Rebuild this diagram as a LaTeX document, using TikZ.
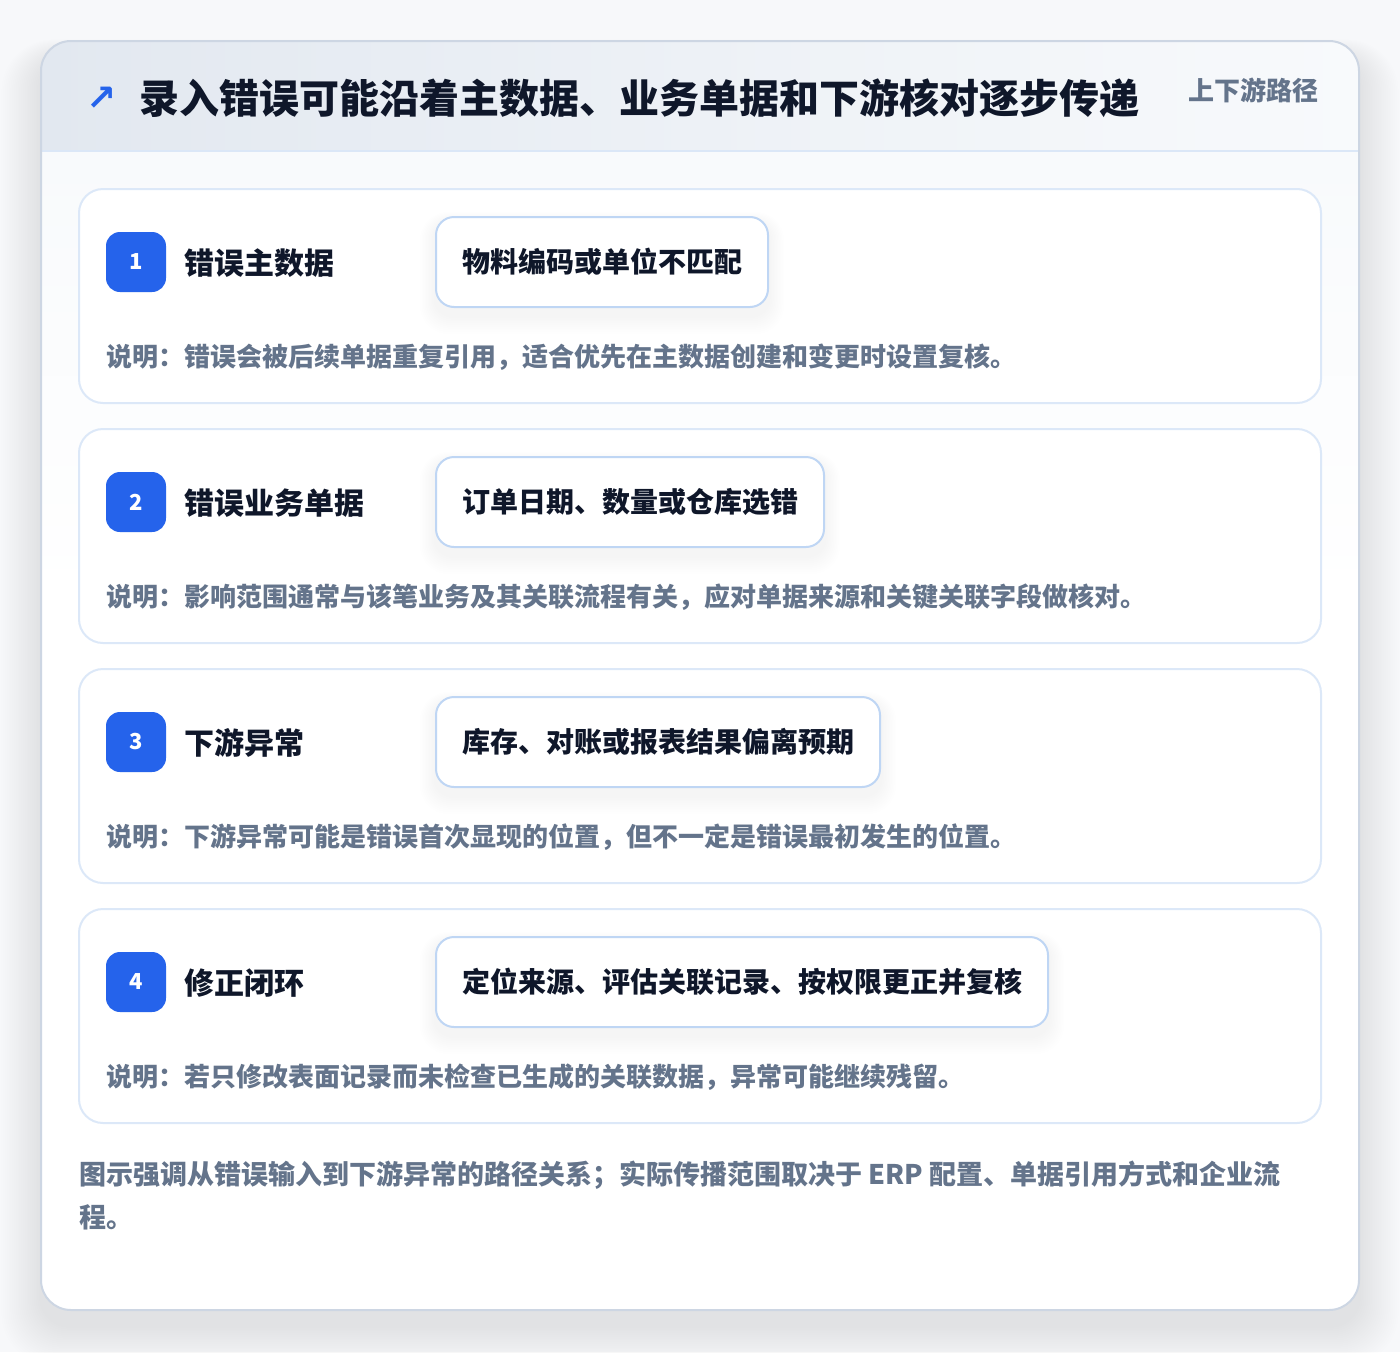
\documentclass[tikz,border=0pt]{standalone}
\usepackage{fontspec}
\setmainfont{Noto Sans CJK SC}
\newfontfamily\symfont{DejaVu Sans}
\definecolor{pagebg}{HTML}{F7F8FA}
\definecolor{cardborder}{HTML}{CDD6E3}
\definecolor{headL}{HTML}{E2E8F0}
\definecolor{headR}{HTML}{F8FAFC}
\definecolor{headline}{HTML}{DBE7F7}
\definecolor{stepborder}{HTML}{DCE8F8}
\definecolor{tagborder}{HTML}{BFD6F4}
\definecolor{badge}{HTML}{2563EB}
\definecolor{ink}{HTML}{0F172A}
\definecolor{muted}{HTML}{64748B}
\tikzset{
  stepcard/.style={draw=stepborder, line width=2pt, fill=white, rounded corners=24pt},
  badgebox/.style={fill=badge, rounded corners=14pt, minimum width=60pt, minimum height=60pt, inner sep=0pt, text=white, font=\fontsize{22}{26}\selectfont\bfseries},
  steptitle/.style={anchor=west, inner sep=0pt, text=ink, font=\fontsize{30}{36}\selectfont\bfseries},
  tagbox/.style={anchor=west, draw=tagborder, line width=2pt, fill=white, rounded corners=18pt, inner xsep=26pt, inner ysep=0pt, minimum height=90pt, text=ink, font=\fontsize{28}{34}\selectfont\bfseries},
  notetext/.style={anchor=west, inner sep=0pt, text=muted, font=\fontsize{26}{32}\selectfont\bfseries},
  foottext/.style={anchor=west, inner sep=0pt, text=muted, font=\fontsize{27}{32}\selectfont\bfseries},
}
\begin{document}
\begin{tikzpicture}[x=1pt,y=-1pt]
\useasboundingbox (0,0) rectangle (1400,1352);
\fill[pagebg] (0,0) rectangle (1400,1352);
% soft card shadow
\foreach \k in {1,...,22}{
  \fill[black, opacity=0.0045, rounded corners=30pt+\k pt] (41-\k*1.8,41-\k*0.8+16) rectangle (1359+\k*1.8,1310+\k*1.8+16);
}
\fill[white, rounded corners=30pt] (41,41) rectangle (1359,1310);
\begin{scope}
  \clip[rounded corners=30pt] (41,41) rectangle (1359,1310);
  \fill[top color=headR, bottom color=white] (41,151) rectangle (1359,600);
  \fill[left color=headL, right color=headR] (41,41) rectangle (1359,151);
  \draw[headline, line width=2pt] (41,151) -- (1359,151);
\end{scope}
\draw[cardborder, line width=2pt, rounded corners=30pt] (41,41) rectangle (1359,1310);
% header
\node[anchor=center, inner sep=0pt, text=badge, font=\symfont\bfseries\fontsize{36}{40}\selectfont] (icon) at (102,99) {↗};
\node[anchor=west, inner sep=0pt, text=ink, font=\fontsize{40}{48}\selectfont\bfseries] (title) at (139,98) {录入错误可能沿着主数据、业务单据和下游核对逐步传递};
\node[anchor=west, inner sep=0pt, text=muted, font=\fontsize{26}{32}\selectfont\bfseries] (tagline) at (1188,90) {上下游路径};
% steps
\foreach \i/\t/\g/\n in {
  1/错误主数据/物料编码或单位不匹配/说明：错误会被后续单据重复引用，适合优先在主数据创建和变更时设置复核。,
  2/错误业务单据/订单日期、数量或仓库选错/说明：影响范围通常与该笔业务及其关联流程有关，应对单据来源和关键关联字段做核对。,
  3/下游异常/库存、对账或报表结果偏离预期/说明：下游异常可能是错误首次显现的位置，但不一定是错误最初发生的位置。,
  4/修正闭环/定位来源、评估关联记录、按权限更正并复核/说明：若只修改表面记录而未检查已生成的关联数据，异常可能继续残留。}{
  \pgfmathsetmacro{\oy}{240*(\i-1)}
  \draw[stepcard] (79,189+\oy) rectangle (1321,403+\oy);
  \node[badgebox] (badge\i) at (136,262+\oy) {\i};
  \node[steptitle] (title\i) at (184,263+\oy) {\t};
  \node[tagbox, opacity=0] (tagghost\i) at (435,262+\oy) {\g};
  \foreach \k in {1,...,10}{
    \fill[black, opacity=0.005, rounded corners=18pt+\k pt] ([xshift=-\k*1.5pt, yshift=-6pt+\k*1.0pt]tagghost\i.north west) rectangle ([xshift=\k*1.5pt, yshift=-8pt-\k*1.8pt]tagghost\i.south east);
  }
  \node[tagbox] (tag\i) at (435,262+\oy) {\g};
  \node[notetext] (note\i) at (106,357+\oy) {\n};
}
% footer
\node[foottext] (foot1) at (79,1175) {图示强调从错误输入到下游异常的路径关系；实际传播范围取决于 ERP 配置、单据引用方式和企业流};
\node[foottext] (foot2) at (79,1217) {程。};
\end{tikzpicture}
\end{document}
